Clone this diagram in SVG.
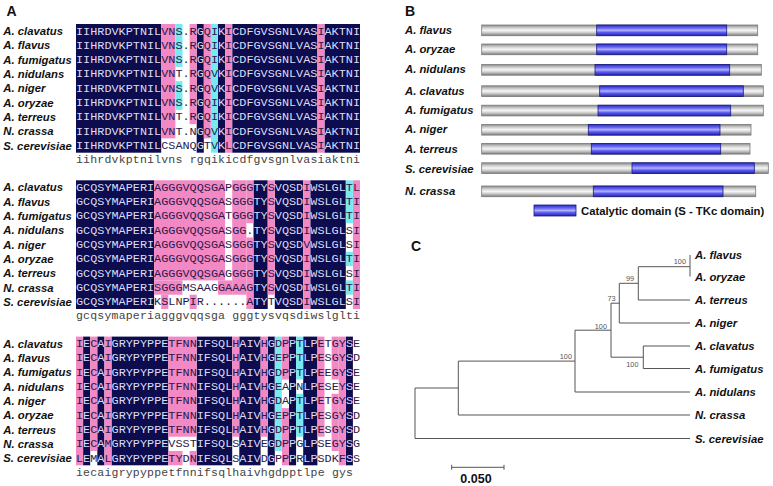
<svg xmlns="http://www.w3.org/2000/svg" width="773" height="486" viewBox="0 0 773 486">
<defs>
<linearGradient id="gg" x1="0" y1="0" x2="0" y2="1">
<stop offset="0" stop-color="#8a8a8a"/><stop offset="0.3" stop-color="#d6d6d6"/><stop offset="0.5" stop-color="#f6f6f6"/><stop offset="0.7" stop-color="#cfcfcf"/><stop offset="1" stop-color="#7c7c7c"/>
</linearGradient>
<linearGradient id="bg" x1="0" y1="0" x2="0" y2="1">
<stop offset="0" stop-color="#2a2ac8"/><stop offset="0.3" stop-color="#6a6af4"/><stop offset="0.5" stop-color="#b0b0ff"/><stop offset="0.7" stop-color="#5a5aee"/><stop offset="1" stop-color="#2222b0"/>
</linearGradient>
</defs>
<style>
.n{fill:#0c0c4e}.p{fill:#f288c4}.c{fill:#7ae8f0}
.s{font-family:"Liberation Mono","Courier New",monospace;font-size:11.83px;fill:#2a1a4a}
.l{fill:#dcdcf4}
.cs{font-family:"Liberation Mono","Courier New",monospace;font-size:11.5px;fill:#444}
.lab{font-family:"Liberation Sans",Arial,sans-serif;font-size:11.3px;font-weight:bold;font-style:italic;fill:#111}
.pl{font-family:"Liberation Sans",Arial,sans-serif;font-size:14px;font-weight:bold;fill:#111}
.gb{fill:url(#gg);stroke:#7a7a7a;stroke-width:0.8}
.bb{fill:url(#bg);stroke:#1a1a80;stroke-width:0.8}
.br{fill:none;stroke:#555;stroke-width:1}
.bs{font-family:"Liberation Sans",Arial,sans-serif;font-size:7.3px;fill:#555}
</style>
<rect width="773" height="486" fill="#fff"/>

<g id="panelA">
<text class="pl" x="6.5" y="15.5">A</text>
<!-- Block 1 -->
<g id="block1" transform="translate(0,24)">
<rect class="n" x="76" y="0" width="85.2" height="128.7"/>
<rect class="n" x="196.7" y="0" width="7.1" height="128.7"/>
<rect class="n" x="218" y="0" width="7.1" height="128.7"/>
<rect class="n" x="232.2" y="0" width="85.2" height="128.7"/>
<rect class="n" x="324.5" y="0" width="35.5" height="128.7"/>
<rect class="p" x="161.2" y="0" width="14.2" height="114.4"/>
<rect class="p" x="189.6" y="0" width="7.1" height="100.1"/>
<rect class="p" x="203.8" y="0" width="7.1" height="114.4"/>
<rect class="p" x="225.1" y="0" width="7.1" height="128.7"/>
<rect class="p" x="317.4" y="0" width="7.1" height="128.7"/>
<rect class="c" x="175.4" y="0" width="7.1" height="42.9"/>
<rect class="c" x="175.4" y="57.2" width="7.1" height="28.6"/>
<rect class="c" x="210.9" y="0" width="7.1" height="128.7"/>
<text class="lab" x="3.3" y="11.15">A. clavatus</text>
<text class="lab" x="3.3" y="25.45">A. flavus</text>
<text class="lab" x="3.3" y="39.75">A. fumigatus</text>
<text class="lab" x="3.3" y="54.05">A. nidulans</text>
<text class="lab" x="3.3" y="68.35">A. niger</text>
<text class="lab" x="3.3" y="82.65">A. oryzae</text>
<text class="lab" x="3.3" y="96.95">A. terreus</text>
<text class="lab" x="3.3" y="111.25">N. crassa</text>
<text class="lab" x="3.3" y="125.55">S. cerevisiae</text>
<text class="s" x="76" y="10.55"><tspan class="l">IIHRDVKPTNIL</tspan>VNS.R<tspan class="l">G</tspan>QI<tspan class="l">K</tspan>I<tspan class="l">CDFGVSGNLVAS</tspan>I<tspan class="l">AKTNI</tspan></text>
<text class="s" x="76" y="24.85"><tspan class="l">IIHRDVKPTNIL</tspan>VNS.R<tspan class="l">G</tspan>QI<tspan class="l">K</tspan>I<tspan class="l">CDFGVSGNLVAS</tspan>I<tspan class="l">AKTNI</tspan></text>
<text class="s" x="76" y="39.15"><tspan class="l">IIHRDVKPTNIL</tspan>VNS.R<tspan class="l">G</tspan>QI<tspan class="l">K</tspan>I<tspan class="l">CDFGVSGNLVAS</tspan>I<tspan class="l">AKTNI</tspan></text>
<text class="s" x="76" y="53.45"><tspan class="l">IIHRDVKPTNIL</tspan>VNT.R<tspan class="l">G</tspan>QV<tspan class="l">K</tspan>I<tspan class="l">CDFGVSGNLVAS</tspan>I<tspan class="l">AKTNI</tspan></text>
<text class="s" x="76" y="67.75"><tspan class="l">IIHRDVKPTNIL</tspan>VNS.R<tspan class="l">G</tspan>QV<tspan class="l">K</tspan>I<tspan class="l">CDFGVSGNLVAS</tspan>I<tspan class="l">AKTNI</tspan></text>
<text class="s" x="76" y="82.05"><tspan class="l">IIHRDVKPTNIL</tspan>VNS.R<tspan class="l">G</tspan>QI<tspan class="l">K</tspan>I<tspan class="l">CDFGVSGNLVAS</tspan>I<tspan class="l">AKTNI</tspan></text>
<text class="s" x="76" y="96.35"><tspan class="l">IIHRDVKPTNIL</tspan>VNT.R<tspan class="l">G</tspan>QI<tspan class="l">K</tspan>I<tspan class="l">CDFGVSGNLVAS</tspan>I<tspan class="l">AKTNI</tspan></text>
<text class="s" x="76" y="110.65"><tspan class="l">IIHRDVKPTNIL</tspan>VNT.N<tspan class="l">G</tspan>QV<tspan class="l">K</tspan>I<tspan class="l">CDFGVSGNLVAS</tspan>I<tspan class="l">AKTNI</tspan></text>
<text class="s" x="76" y="124.95"><tspan class="l">IIHRDVKPTNIL</tspan>CSANQ<tspan class="l">G</tspan>TV<tspan class="l">K</tspan>L<tspan class="l">CDFGVSGNLVAS</tspan>I<tspan class="l">AKTNI</tspan></text>
<text class="cs" x="76" y="139" xml:space="preserve" textLength="284">iihrdvkptnilvns rgqikicdfgvsgnlvasiaktni</text>
</g>
<!-- Block 2 -->
<g id="block2" transform="translate(0,180.3)">
<rect class="n" x="76" y="0" width="78.1" height="128.7"/>
<rect class="n" x="253.5" y="0" width="14.2" height="128.7"/>
<rect class="n" x="274.8" y="0" width="28.4" height="128.7"/>
<rect class="n" x="310.3" y="0" width="35.5" height="128.7"/>
<rect class="p" x="154.1" y="0" width="71" height="100.1"/>
<rect class="p" x="154.1" y="100.1" width="28.4" height="14.3"/>
<rect class="p" x="218" y="100.1" width="14.2" height="14.3"/>
<rect class="p" x="232.2" y="0" width="14.2" height="114.4"/>
<rect class="p" x="246.4" y="0" width="7.1" height="42.9"/>
<rect class="p" x="246.4" y="57.2" width="7.1" height="71.5"/>
<rect class="p" x="161.2" y="114.4" width="7.1" height="14.3"/>
<rect class="p" x="189.6" y="114.4" width="7.1" height="14.3"/>
<rect class="p" x="267.7" y="0" width="7.1" height="114.4"/>
<rect class="p" x="303.2" y="0" width="7.1" height="128.7"/>
<rect class="p" x="352.9" y="0" width="7.1" height="128.7"/>
<rect class="c" x="345.8" y="0" width="7.1" height="42.9"/>
<rect class="c" x="345.8" y="71.5" width="7.1" height="14.3"/>
<rect class="c" x="345.8" y="100.1" width="7.1" height="14.3"/>
<text class="lab" x="3.3" y="11.15">A. clavatus</text>
<text class="lab" x="3.3" y="25.45">A. flavus</text>
<text class="lab" x="3.3" y="39.75">A. fumigatus</text>
<text class="lab" x="3.3" y="54.05">A. nidulans</text>
<text class="lab" x="3.3" y="68.35">A. niger</text>
<text class="lab" x="3.3" y="82.65">A. oryzae</text>
<text class="lab" x="3.3" y="96.95">A. terreus</text>
<text class="lab" x="3.3" y="111.25">N. crassa</text>
<text class="lab" x="3.3" y="125.55">S. cerevisiae</text>
<text class="s" x="76" y="10.55"><tspan class="l">GCQSYMAPERI</tspan>AGGGVQQSGAPGGG<tspan class="l">TY</tspan>S<tspan class="l">VQSD</tspan>I<tspan class="l">WSLGL</tspan>TL</text>
<text class="s" x="76" y="24.85"><tspan class="l">GCQSYMAPERI</tspan>AGGGVQQSGASGGG<tspan class="l">TY</tspan>S<tspan class="l">VQSD</tspan>I<tspan class="l">WSLGL</tspan>TI</text>
<text class="s" x="76" y="39.15"><tspan class="l">GCQSYMAPERI</tspan>AGGGVQQSGATGGG<tspan class="l">TY</tspan>S<tspan class="l">VQSD</tspan>I<tspan class="l">WSLGL</tspan>TI</text>
<text class="s" x="76" y="53.45"><tspan class="l">GCQSYMAPERI</tspan>AGGGVQQSGASGG.<tspan class="l">TY</tspan>S<tspan class="l">VQSD</tspan>I<tspan class="l">WSLGL</tspan>SI</text>
<text class="s" x="76" y="67.75"><tspan class="l">GCQSYMAPERI</tspan>AGGGVQQSGASGGG<tspan class="l">TY</tspan>S<tspan class="l">VQSD</tspan>V<tspan class="l">WSLGL</tspan>SI</text>
<text class="s" x="76" y="82.05"><tspan class="l">GCQSYMAPERI</tspan>AGGGVQQSGASGGG<tspan class="l">TY</tspan>S<tspan class="l">VQSD</tspan>I<tspan class="l">WSLGL</tspan>TI</text>
<text class="s" x="76" y="96.35"><tspan class="l">GCQSYMAPERI</tspan>AGGGVQQSGAGGGG<tspan class="l">TY</tspan>S<tspan class="l">VQSD</tspan>I<tspan class="l">WSLGL</tspan>SI</text>
<text class="s" x="76" y="110.65"><tspan class="l">GCQSYMAPERI</tspan>SGGGMSAAGGAAAG<tspan class="l">TY</tspan>S<tspan class="l">VQSD</tspan>I<tspan class="l">WSLGL</tspan>TI</text>
<text class="s" x="76" y="124.95"><tspan class="l">GCQSYMAPERI</tspan>KSLNPIR......A<tspan class="l">TY</tspan>T<tspan class="l">VQSD</tspan>I<tspan class="l">WSLGL</tspan>SI</text>
<text class="cs" x="76" y="139" xml:space="preserve" textLength="284">gcqsymaperiagggvqqsga gggtysvqsdiwslglti</text>
</g>
<!-- Block 3 -->
<g id="block3" transform="translate(0,336.6)">
<rect class="n" x="83.1" y="0" width="7.1" height="128.7"/>
<rect class="n" x="97.3" y="0" width="7.1" height="128.7"/>
<rect class="n" x="111.5" y="0" width="56.8" height="128.7"/>
<rect class="n" x="196.7" y="0" width="35.5" height="128.7"/>
<rect class="n" x="239.3" y="0" width="21.3" height="128.7"/>
<rect class="n" x="267.7" y="0" width="7.1" height="128.7"/>
<rect class="n" x="289" y="0" width="7.1" height="128.7"/>
<rect class="n" x="303.2" y="0" width="14.2" height="128.7"/>
<rect class="n" x="345.8" y="0" width="7.1" height="128.7"/>
<rect class="p" x="76" y="0" width="7.1" height="128.7"/>
<rect class="p" x="90.2" y="0" width="7.1" height="114.4"/>
<rect class="p" x="104.4" y="0" width="7.1" height="128.7"/>
<rect class="p" x="168.3" y="0" width="28.4" height="100.1"/>
<rect class="p" x="168.3" y="114.4" width="14.2" height="14.3"/>
<rect class="p" x="189.6" y="114.4" width="7.1" height="14.3"/>
<rect class="p" x="232.2" y="0" width="7.1" height="100.1"/>
<rect class="p" x="260.6" y="0" width="7.1" height="100.1"/>
<rect class="p" x="281.9" y="0" width="7.1" height="42.9"/>
<rect class="p" x="281.9" y="71.5" width="7.1" height="57.2"/>
<rect class="p" x="317.4" y="0" width="7.1" height="100.1"/>
<rect class="p" x="331.6" y="0" width="7.1" height="42.9"/>
<rect class="p" x="331.6" y="57.2" width="7.1" height="57.2"/>
<rect class="p" x="338.7" y="0" width="7.1" height="128.7"/>
<rect class="c" x="274.8" y="0" width="7.1" height="114.4"/>
<rect class="c" x="296.1" y="0" width="7.1" height="42.9"/>
<rect class="c" x="296.1" y="57.2" width="7.1" height="42.9"/>
<text class="lab" x="3.3" y="11.15">A. clavatus</text>
<text class="lab" x="3.3" y="25.45">A. flavus</text>
<text class="lab" x="3.3" y="39.75">A. fumigatus</text>
<text class="lab" x="3.3" y="54.05">A. nidulans</text>
<text class="lab" x="3.3" y="68.35">A. niger</text>
<text class="lab" x="3.3" y="82.65">A. oryzae</text>
<text class="lab" x="3.3" y="96.95">A. terreus</text>
<text class="lab" x="3.3" y="111.25">N. crassa</text>
<text class="lab" x="3.3" y="125.55">S. cerevisiae</text>
<text class="s" x="76" y="10.55">I<tspan class="l">E</tspan>C<tspan class="l">A</tspan>I<tspan class="l">GRYPYPPE</tspan>TFNN<tspan class="l">IFSQL</tspan>H<tspan class="l">AIV</tspan>H<tspan class="l">G</tspan>DP<tspan class="l">P</tspan>T<tspan class="l">LP</tspan>ETGY<tspan class="l">S</tspan>E</text>
<text class="s" x="76" y="24.85">I<tspan class="l">E</tspan>C<tspan class="l">A</tspan>I<tspan class="l">GRYPYPPE</tspan>TFNN<tspan class="l">IFSQL</tspan>H<tspan class="l">AIV</tspan>H<tspan class="l">G</tspan>EP<tspan class="l">P</tspan>T<tspan class="l">LP</tspan>ESGY<tspan class="l">S</tspan>D</text>
<text class="s" x="76" y="39.15">I<tspan class="l">E</tspan>C<tspan class="l">A</tspan>I<tspan class="l">GRYPYPPE</tspan>TFNN<tspan class="l">IFSQL</tspan>H<tspan class="l">AIV</tspan>H<tspan class="l">G</tspan>DP<tspan class="l">P</tspan>T<tspan class="l">LP</tspan>EEGY<tspan class="l">S</tspan>E</text>
<text class="s" x="76" y="53.45">I<tspan class="l">E</tspan>C<tspan class="l">A</tspan>I<tspan class="l">GRYPYPPE</tspan>TFNN<tspan class="l">IFSQL</tspan>H<tspan class="l">AIV</tspan>H<tspan class="l">G</tspan>EA<tspan class="l">P</tspan>N<tspan class="l">LP</tspan>ESEY<tspan class="l">S</tspan>E</text>
<text class="s" x="76" y="67.75">I<tspan class="l">E</tspan>C<tspan class="l">A</tspan>I<tspan class="l">GRYPYPPE</tspan>TFNN<tspan class="l">IFSQL</tspan>H<tspan class="l">AIV</tspan>H<tspan class="l">G</tspan>DA<tspan class="l">P</tspan>T<tspan class="l">LP</tspan>ETGY<tspan class="l">S</tspan>E</text>
<text class="s" x="76" y="82.05">I<tspan class="l">E</tspan>C<tspan class="l">A</tspan>I<tspan class="l">GRYPYPPE</tspan>TFNN<tspan class="l">IFSQL</tspan>H<tspan class="l">AIV</tspan>H<tspan class="l">G</tspan>EP<tspan class="l">P</tspan>T<tspan class="l">LP</tspan>ESGY<tspan class="l">S</tspan>D</text>
<text class="s" x="76" y="96.35">I<tspan class="l">E</tspan>C<tspan class="l">A</tspan>I<tspan class="l">GRYPYPPE</tspan>TFNN<tspan class="l">IFSQL</tspan>H<tspan class="l">AIV</tspan>H<tspan class="l">G</tspan>DP<tspan class="l">P</tspan>T<tspan class="l">LP</tspan>ESGY<tspan class="l">S</tspan>D</text>
<text class="s" x="76" y="110.65">I<tspan class="l">E</tspan>C<tspan class="l">A</tspan>M<tspan class="l">GRYPYPPE</tspan>VSST<tspan class="l">IFSQL</tspan>S<tspan class="l">AIV</tspan>E<tspan class="l">G</tspan>DP<tspan class="l">P</tspan>G<tspan class="l">LP</tspan>SEGY<tspan class="l">S</tspan>G</text>
<text class="s" x="76" y="124.95">L<tspan class="l">E</tspan>M<tspan class="l">A</tspan>L<tspan class="l">GRYPYPPE</tspan>TYDN<tspan class="l">IFSQL</tspan>S<tspan class="l">AIV</tspan>D<tspan class="l">G</tspan>PP<tspan class="l">P</tspan>R<tspan class="l">LP</tspan>SDKF<tspan class="l">S</tspan>S</text>
<text class="cs" x="76" y="139.2" xml:space="preserve" textLength="277">iecaigrypyppetfnnifsqlhaivhgdpptlpe gys</text>
</g>
</g>

<g id="panelB">
<text class="pl" x="405" y="15.5">B</text>
<g id="b-flavus"><text class="lab" x="405" y="34">A. flavus</text><rect class="gb" x="481.7" y="25" width="276" height="10.7"/><rect class="bb" x="596.7" y="25" width="130" height="10.7"/></g>
<g id="b-oryzae"><text class="lab" x="405" y="53.3">A. oryzae</text><rect class="gb" x="481.7" y="44" width="276" height="10.7"/><rect class="bb" x="596.7" y="44" width="130" height="10.7"/></g>
<g id="b-nidulans"><text class="lab" x="405" y="73">A. nidulans</text><rect class="gb" x="481.7" y="64.5" width="279.6" height="10.7"/><rect class="bb" x="595" y="64.5" width="134.7" height="10.7"/></g>
<g id="b-clavatus"><text class="lab" x="405" y="95">A. clavatus</text><rect class="gb" x="481.7" y="85.8" width="281.6" height="10.7"/><rect class="bb" x="599.7" y="85.8" width="143.6" height="10.7"/></g>
<g id="b-fumigatus"><text class="lab" x="405" y="114">A. fumigatus</text><rect class="gb" x="481.7" y="105.2" width="281.6" height="10.7"/><rect class="bb" x="598" y="105.2" width="132.7" height="10.7"/></g>
<g id="b-niger"><text class="lab" x="405" y="133.3">A. niger</text><rect class="gb" x="481.7" y="124.4" width="269.3" height="10.7"/><rect class="bb" x="588.3" y="124.4" width="131.7" height="10.7"/></g>
<g id="b-terreus"><text class="lab" x="405" y="153">A. terreus</text><rect class="gb" x="481.7" y="143.4" width="268.3" height="10.7"/><rect class="bb" x="591.3" y="143.4" width="129.4" height="10.7"/></g>
<g id="b-scerevisiae"><text class="lab" x="405" y="172.5">S. cerevisiae</text><rect class="gb" x="481.7" y="162.8" width="286.6" height="10.7"/><rect class="bb" x="632" y="162.8" width="122.3" height="10.7"/></g>
<g id="b-ncrassa"><text class="lab" x="405" y="195">N. crassa</text><rect class="gb" x="481.7" y="186" width="274" height="10.7"/><rect class="bb" x="593.3" y="186" width="129.7" height="10.7"/></g>
<g id="legend"><rect class="bb" x="534" y="205" width="42" height="11"/><text x="581" y="214.8" font-family="Liberation Sans, Arial, sans-serif" font-size="11.3" font-weight="bold" fill="#111">Catalytic domain (S - TKc domain)</text></g>
</g>

<g id="panelC">
<text class="pl" x="411" y="250.5">C</text>
<g id="connectors">
<path class="br" d="M690,255V276.5 M638.3,266.7H690 M638.3,266.7V300 M638.3,300H690 M619.3,283.3H638.3 M619.3,283.3V323 M619.3,323H690 M611,303.2H619.3 M611,303.2V357.2 M611,357.2H643.3 M643.3,346V368.5 M643.3,346H690 M643.3,368.5H690 M575,330.2H611 M575,330.2V392 M575,392H690 M458.3,361.1H575 M458.3,361.1V415 M458.3,415H690 M415,388H458.3 M415,388V438.5 M415,438.5H690"/>
</g>
<text class="bs" x="686" y="263.5" text-anchor="end">100</text>
<text class="bs" x="634" y="280.5" text-anchor="end">99</text>
<text class="bs" x="615.5" y="300.5" text-anchor="end">73</text>
<text class="bs" x="607" y="328.5" text-anchor="end">100</text>
<text class="bs" x="638.5" y="367.2" text-anchor="end">100</text>
<text class="bs" x="572" y="359.3" text-anchor="end">100</text>
<g id="t-flavus"><text class="lab" x="695" y="259">A. flavus</text></g>
<g id="t-oryzae"><text class="lab" x="695" y="280.5">A. oryzae</text></g>
<g id="t-terreus"><text class="lab" x="695" y="304">A. terreus</text></g>
<g id="t-niger"><text class="lab" x="695" y="327">A. niger</text></g>
<g id="t-clavatus"><text class="lab" x="695" y="350">A. clavatus</text></g>
<g id="t-fumigatus"><text class="lab" x="695" y="372.5">A. fumigatus</text></g>
<g id="t-nidulans"><text class="lab" x="695" y="396">A. nidulans</text></g>
<g id="t-ncrassa"><text class="lab" x="695" y="419">N. crassa</text></g>
<g id="t-scerevisiae"><text class="lab" x="695" y="442.5">S. cerevisiae</text></g>
<g id="scalebar">
<path class="br" d="M451.7,467.3H504 M451.7,464.8V469.8 M504,464.8V469.8"/>
<text x="476" y="482.8" text-anchor="middle" font-family="Liberation Sans, Arial, sans-serif" font-size="12.5" font-weight="bold" fill="#111">0.050</text>
</g>
</g>
</svg>
